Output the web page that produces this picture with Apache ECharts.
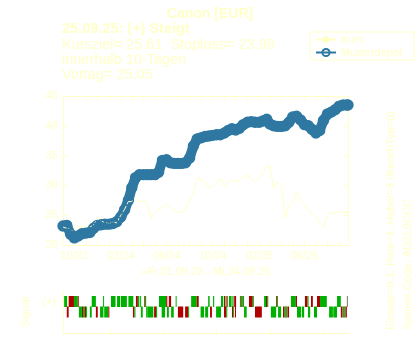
<!DOCTYPE html>
<html><head><meta charset="utf-8">
<script src="https://cdn.jsdelivr.net/npm/echarts@6/dist/echarts.min.js"></script>
<style>html,body{margin:0;padding:0;background:#fff}#c{width:420px;height:350px}</style>
</head><body><div id="c"></div>
<script>
const dates = [
 '2023-09-01','2023-09-11','2023-09-21','2023-10-01','2023-10-11','2023-10-21',
 '2023-11-01','2023-11-11','2023-11-21','2023-12-01','2023-12-11','2023-12-21',
 '2024-01-01','2024-01-11','2024-01-21','2024-02-01','2024-02-11','2024-02-21',
 '2024-03-01','2024-03-11','2024-03-21','2024-04-01','2024-04-11','2024-04-21',
 '2024-05-01','2024-05-11','2024-05-21','2024-06-01','2024-06-11','2024-06-21',
 '2024-07-01','2024-07-11','2024-07-21','2024-08-01','2024-08-11','2024-08-21',
 '2024-09-01','2024-09-11','2024-09-21','2024-10-01','2024-10-11','2024-10-21',
 '2024-11-01','2024-11-11','2024-11-21','2024-12-01','2024-12-11','2024-12-21',
 '2025-01-01','2025-01-11','2025-01-21','2025-02-01','2025-02-11','2025-02-21',
 '2025-03-01','2025-03-11','2025-03-21','2025-04-01','2025-04-11','2025-04-21',
 '2025-05-01','2025-05-11','2025-05-21','2025-06-01','2025-06-11','2025-06-21',
 '2025-07-01','2025-07-11','2025-07-21','2025-08-01','2025-08-11','2025-08-21',
 '2025-09-01','2025-09-11','2025-09-21','2025-09-24'
];
const musterdepot = [
 23.2,23.3,21.8, 21.2,21.5,21.9, 22.0,22.1,22.8, 23.3,23.4,23.5,
 23.5,23.6,23.9, 24.7,25.9,27.5, 29.6,31.3,31.8, 31.8,31.8,31.8,
 31.8,32.2,34.2, 34.3,33.8,33.7, 33.7,33.7,33.8, 34.6,36.6,37.8,
 38.0,38.2,38.3, 38.4,38.5,38.5, 38.8,39.2,39.5, 39.3,39.6,40.2,
 40.6,40.7,40.6, 40.6,40.8,41.1, 40.3,40.0,39.9, 39.9,40.0,40.6,
 41.5,41.6,41.0, 40.2,40.0,39.4, 38.8,39.2,40.9, 42.0,42.3,42.7,
 43.3,43.5,43.5,43.5
];
const kurs = [
 23.0,22.8,22.6, 22.4,23.2,22.9, 23.3,23.0,23.4, 24.6,24.0,23.8,
 23.6,23.9,23.7, 25.0,26.0,27.3, 27.3,27.8,27.2, 27.5,27.0,24.4,
 25.5,26.0,26.3, 27.0,26.3,25.8, 25.4,25.5,26.0, 27.5,28.5,31.3,
 31.0,30.5,29.6, 29.8,30.5,31.2, 29.8,30.6,30.9, 30.6,31.0,31.3,
 31.8,31.0,30.6, 31.2,32.0,33.2, 33.3,29.5,30.5, 30.0,24.5,26.5,
 27.2,28.8,27.5, 26.6,26.0,25.2, 24.6,23.8,23.0, 25.0,25.5,25.3,
 25.6,25.4,25.6,25.2
];
const monthTicks = [
 '2023-09-01','2023-10-01','2023-11-01','2023-12-01','2024-01-01','2024-02-01',
 '2024-03-01','2024-04-01','2024-05-01','2024-06-01','2024-07-01','2024-08-01',
 '2024-09-01','2024-10-01','2024-11-01','2024-12-01','2025-01-01','2025-02-01',
 '2025-03-01','2025-04-01','2025-05-01','2025-06-01','2025-07-01','2025-08-01','2025-09-01'
];
const monthLabels = ['2023-10-01','2024-02-01','2024-06-01','2024-10-01','2025-02-01','2025-06-01'];
// signal segments: [startDay, endDay, sign] (days since 2023-09-01; 1 = green, -1 = red, 0 = neutral)
const signalPlus = [
 [3,11,1],[15,29,-1],[29,39,1],[39,41,-1],[76,87,1],[106,108,1],[127,139,1],[143,151,1],
 [153,169,1],[173,186,1],[193,198,-1],[198,202,1],[204,206,1],[215,217,-1],[217,220,1],
 [254,273,1],[273,276,-1],[280,286,-1],[298,300,1],[339,354,1],[354,359,-1],
 [384,388,1],[397,400,1],[418,424,1],[426,429,-1],[430,432,1],[433,435,-1],[439,446,1],
 [448,451,1],[452,453,-1],[455,458,-1],[468,472,1],[472,475,-1],[475,479,1],[492,502,-1],
 [502,505,1],[532,537,1],[537,540,-1],[540,543,1],[564,566,-1],[566,568,1],[603,616,1],
 [616,619,-1],[640,647,-1],[647,649,1],[656,661,-1],[672,680,-1],[680,698,1],[725,735,1],
 [751,753,0]
];
const signalMinus = [
 [10,15,-1],[42,50,1],[50,53,-1],[53,58,1],[58,61,-1],[61,63,1],[71,76,1],[87,92,-1],
 [98,107,1],[109,120,1],[120,122,-1],[185,189,-1],[189,191,1],[206,211,1],[220,224,1],
 [224,239,1],[241,246,-1],[246,249,1],[261,270,1],[275,280,1],[286,293,1],[304,318,-1],
 [323,331,-1],[331,333,1],[364,373,1],[376,384,1],[389,394,-1],[405,418,1],[426,432,-1],
 [432,434,1],[447,450,-1],[450,452,1],[455,457,-1],[479,486,1],[508,526,-1],[550,564,1],
 [569,577,1],[582,585,-1],[585,589,1],[589,591,-1],[591,593,1],[594,598,-1],[619,630,1],
 [632,638,1],[648,654,1],[664,672,1],[704,714,1],[715,725,1],[735,739,-1],[739,742,1],
 [742,745,-1],[745,748,1],[748,751,-1]
];
const signalRows = {plus: 3, minus: 2};
const signalRowLabels = {3: '(+)', 2: '(-)'};
const signalTicks = [124, 265, 406, 547, 688];
const signalSpanDays = 754;

const PALE = '#FFFFC8';
const BLUE = '#2F78A2';
const FONT = 'Liberation Sans, Arial, sans-serif';
const t = s => { const p = s.split('-').map(Number); return Date.UTC(p[0], p[1]-1, p[2]); };
const pad = n => (n < 10 ? '0' : '') + n;
const fmt = v => { const d = new Date(v); return pad(d.getUTCMonth()+1) + '/' + pad(d.getUTCFullYear() % 100); };

const sigData = signalPlus.map(s => [s[0], s[1], signalRows.plus, s[2]])
  .concat(signalMinus.map(s => [s[0], s[1], signalRows.minus, s[2]]));
const sigColor = {'1': '#00B000', '-1': '#B00000', '0': '#7A7A55'};
const musterData = dates.map((d, i) => [t(d), musterdepot[i]]);

const chart = echarts.init(document.getElementById('c'), null, {renderer: 'canvas'});
const axLine = {show: true, lineStyle: {color: PALE, width: 1}};
const mainTicks = {show: true, inside: true, length: 4, lineStyle: {color: PALE}, customValues: monthTicks.map(t)};
const xMin = t('2023-09-01'), xMax = t('2025-09-24');
chart.setOption({
  backgroundColor: '#fff',
  animation: false,
  textStyle: {fontFamily: FONT},
  grid: [
    {left: 63, top: 96, width: 285, height: 149},
    {left: 63, top: 291, width: 285, height: 42}
  ],
  legend: {
    left: 310, top: 32, orient: 'vertical',
    data: ['Kurs', 'Musterdepot'],
    itemWidth: 20, itemHeight: 9, itemGap: 2,
    padding: [2, 12, 2, 5],
    borderColor: PALE, borderWidth: 1,
    textStyle: {color: PALE, fontSize: 11, fontFamily: FONT}
  },
  xAxis: [
    {type: 'value', gridIndex: 0, min: xMin, max: xMax, scale: true,
     axisLine: axLine, axisTick: mainTicks, splitLine: {show: false},
     axisLabel: {customValues: monthLabels.map(t), formatter: fmt, color: PALE, fontSize: 11, margin: 5, fontFamily: FONT}},
    {type: 'value', gridIndex: 0, position: 'top', min: xMin, max: xMax, scale: true,
     axisLine: axLine, axisTick: mainTicks, splitLine: {show: false}, axisLabel: {show: false}},
    {type: 'value', gridIndex: 1, min: 0, max: signalSpanDays,
     axisLine: axLine, axisTick: {show: true, length: 3, lineStyle: {color: PALE}, customValues: signalTicks},
     splitLine: {show: false}, axisLabel: {show: false}},
    {type: 'value', gridIndex: 1, position: 'top', min: 0, max: signalSpanDays,
     axisLine: axLine, axisTick: {show: true, length: 3, lineStyle: {color: PALE}, customValues: signalTicks},
     splitLine: {show: false}, axisLabel: {show: false}}
  ],
  yAxis: [
    {type: 'value', gridIndex: 0, min: 20, max: 45, interval: 5,
     axisLine: axLine,
     axisTick: {show: true, inside: true, length: 4, lineStyle: {color: PALE}},
     splitLine: {show: false},
     axisLabel: {color: PALE, fontSize: 11, margin: 5, fontFamily: FONT}},
    {type: 'value', gridIndex: 0, position: 'right', min: 20, max: 45, interval: 5,
     axisLine: axLine,
     axisTick: {show: true, inside: true, length: 4, lineStyle: {color: PALE}},
     splitLine: {show: false}, axisLabel: {show: false}},
    {type: 'value', gridIndex: 1, min: 0, max: 4,
     axisLine: axLine,
     axisTick: {show: true, length: 3, lineStyle: {color: PALE}, customValues: [2, 3]},
     splitLine: {show: false},
     axisLabel: {customValues: [2, 3], formatter: v => signalRowLabels[v], color: PALE, fontSize: 11, margin: 7, fontFamily: FONT},
     name: 'Signal', nameLocation: 'middle', nameGap: 28, nameRotate: 90,
     nameTextStyle: {color: PALE, fontSize: 11, fontFamily: FONT}},
    {type: 'value', gridIndex: 1, position: 'right', min: 0, max: 4,
     axisLine: axLine,
     axisTick: {show: true, length: 3, lineStyle: {color: PALE}, customValues: [2, 3]},
     splitLine: {show: false}, axisLabel: {show: false}}
  ],
  series: [
    {name: 'MusterdepotBand', type: 'line', xAxisIndex: 0, yAxisIndex: 0,
     data: musterData, symbol: 'none', showSymbol: false, silent: true,
     lineStyle: {color: BLUE, width: 10, cap: 'round', join: 'round'}, itemStyle: {color: BLUE}},
    {name: 'Musterdepot', type: 'line', xAxisIndex: 0, yAxisIndex: 0,
     data: musterData,
     symbol: 'circle', symbolSize: 10, showSymbol: true,
     lineStyle: {color: BLUE, width: 1.2},
     itemStyle: {color: 'rgba(255,255,255,0)', borderColor: BLUE, borderWidth: 1.4}},
    {name: 'Kurs', type: 'line', xAxisIndex: 0, yAxisIndex: 0,
     data: dates.map((d, i) => [t(d), kurs[i]]),
     showSymbol: false, symbol: 'none',
     lineStyle: {color: PALE, width: 1}, itemStyle: {color: PALE}},
    {name: 'Signal', type: 'custom', xAxisIndex: 2, yAxisIndex: 2,
     data: sigData, encode: {x: [0, 1], y: 2},
     renderItem: (params, api) => {
       const s = api.coord([api.value(0), api.value(2)]);
       const e = api.coord([api.value(1), api.value(2)]);
       const h = api.size([0, 1])[1] * 1.05;
       return {type: 'rect',
         shape: {x: s[0], y: s[1] - h / 2, width: Math.max(e[0] - s[0], 1), height: h},
         style: {fill: sigColor[String(api.value(3))]}};
     }}
  ],
  graphic: [
    {type: 'text', left: 'center', top: 7, style: {text: 'Canon [EUR]', fill: PALE, font: 'bold 14px ' + FONT}},
    {type: 'text', x: 62, y: 29, style: {text: '25.09.25: (+) Steigt', fill: PALE, font: 'bold 14.5px ' + FONT, verticalAlign: 'middle'}},
    {type: 'text', x: 62, y: 45, style: {text: 'Kursziel= 25.61  Stoploss= 23.98', fill: PALE, font: '14.5px ' + FONT, verticalAlign: 'middle'}},
    {type: 'text', x: 62, y: 60, style: {text: 'innerhalb 10-Tagen', fill: PALE, font: '14.5px ' + FONT, verticalAlign: 'middle'}},
    {type: 'text', x: 62, y: 75, style: {text: 'Vortag= 25.05', fill: PALE, font: '14.5px ' + FONT, verticalAlign: 'middle'}},
    {type: 'text', x: 206, y: 272, style: {text: '»Fr,01.09.23 - Mi,24.09.25', fill: PALE, font: '11px ' + FONT, align: 'center', verticalAlign: 'middle'}},
    {type: 'text', x: 391, y: 330, rotation: Math.PI / 2, style: {text: 'Einsatz=0.1, Rate=1, Hebel=3 (BenchTyp=0)', fill: PALE, font: '11px ' + FONT, align: 'left', verticalAlign: 'middle'}},
    {type: 'text', x: 408, y: 330, rotation: Math.PI / 2, style: {text: 'System-Code: ADZL0CCC', fill: PALE, font: '11px ' + FONT, align: 'left', verticalAlign: 'middle'}}
  ]
});
</script></body></html>
